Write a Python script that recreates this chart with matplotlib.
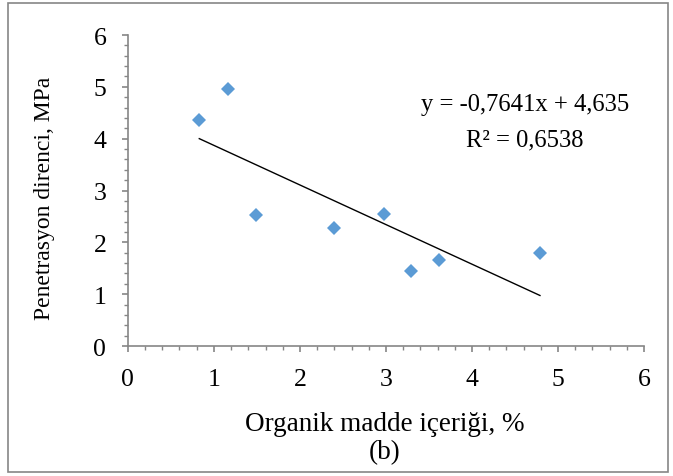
import matplotlib.pyplot as plt
from matplotlib.patches import Rectangle
from matplotlib.ticker import MultipleLocator
import numpy as np

plt.rcParams['font.family'] = ['Liberation Serif', 'DejaVu Serif']

# veriler
organik = [0.83, 1.16, 1.49, 2.40, 2.98, 3.29, 3.62, 4.79]
direnc = [4.36, 4.95, 2.52, 2.28, 2.54, 1.45, 1.65, 1.79]
egim, kesim = -0.7641, 4.635

W, H = 673, 477
fig = plt.figure(figsize=(W/100, H/100), dpi=100)
ax = fig.add_axes([0.190, 0.2725, 0.767, 0.652])

ax.plot(organik, direnc, 'D', color='#5B9BD5', markersize=7, markeredgewidth=0)
xt = np.array([min(organik), max(organik)])
ax.plot(xt, egim*xt + kesim, color='black', lw=1)

ax.set_xlim(0, 6)
ax.set_ylim(0, 6)
ax.xaxis.set_major_locator(MultipleLocator(1))
ax.yaxis.set_major_locator(MultipleLocator(1))
ax.xaxis.set_minor_locator(MultipleLocator(0.2))
ax.yaxis.set_minor_locator(MultipleLocator(0.2))

gri = '#868686'
for s in ['top', 'right']:
    ax.spines[s].set_visible(False)
for s in ['left', 'bottom']:
    ax.spines[s].set_color(gri)
    ax.spines[s].set_linewidth(1.2)
ax.tick_params(which='major', length=4.5, width=1.2, color=gri, labelsize=18.5)
ax.tick_params(axis='x', which='major', pad=11)
ax.tick_params(axis='y', which='major', pad=11)
ax.tick_params(which='minor', length=3, width=1, color=gri)

# eksen yazıları
fig.text(385/W, 1 - 425/H, 'Organik madde içeriği, %', fontsize=19.5,
         ha='center', va='center')
fig.text(385/W, 1 - 453/H, '(b)', fontsize=19.5, ha='center', va='center')
fig.text(45/W, 1 - 198/H, 'Penetrasyon direnci, MPa', fontsize=17,
         ha='center', va='center', rotation=90)

# trend denklemi
fig.text(525/W, 1 - 105/H, 'y = -0,7641x + 4,635', fontsize=17.7,
         ha='center', va='center')
fig.text(525/W, 1 - 140/H, 'R² = 0,6538', fontsize=17.7,
         ha='center', va='center')

# dış çerçeve
fig.patches.append(Rectangle((0.012, 0.008), 0.98, 0.984, transform=fig.transFigure,
                             fill=False, edgecolor=gri, lw=1.2))

fig.savefig('out.png', dpi=100)
